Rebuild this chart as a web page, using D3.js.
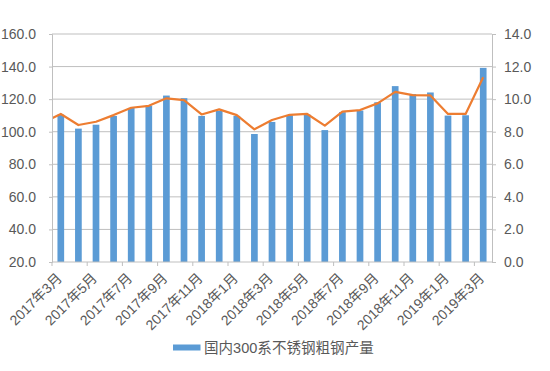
<!DOCTYPE html>
<html>
<head>
<meta charset="utf-8">
<script src="https://cdn.jsdelivr.net/npm/d3@7"></script>
<style>
  body { margin: 0; background: #fff; }
  text { font-family: "Liberation Sans", "Noto Sans CJK SC", sans-serif; fill: #595959; }
</style>
</head>
<body>
<svg id="chart" width="550" height="371"></svg>
<script>
// months on the category axis
const months = [
  "2017年3月","2017年4月","2017年5月","2017年6月","2017年7月","2017年8月","2017年9月",
  "2017年10月","2017年11月","2017年12月","2018年1月","2018年2月","2018年3月","2018年4月",
  "2018年5月","2018年6月","2018年7月","2018年8月","2018年9月","2018年10月","2018年11月",
  "2018年12月","2019年1月","2019年2月","2019年3月"
];
// 国内300系不锈钢粗钢产量 (left axis)
const output = [110.5, 101.9, 104.3, 109.7, 114.6, 115.9, 122.2, 120.6, 109.7, 112.8, 109.7, 98.6,
  106.0, 110.1, 110.5, 101.0, 112.0, 113.0, 118.1, 128.0, 123.1, 124.1, 109.9, 110.1, 139.2];
// orange line (right axis); first value is 2017年2月, just left of the plot
const lineMonths = ["2017年2月"].concat(months);
const lineValues = [8.56, 9.09, 8.41, 8.61, 9.02, 9.47, 9.59, 10.05, 9.94, 9.06, 9.37, 9.02, 8.15,
  8.72, 9.04, 9.09, 8.37, 9.23, 9.33, 9.74, 10.45, 10.25, 10.23, 9.09, 9.09, 11.34];
const leftTicks = [20, 40, 60, 80, 100, 120, 140, 160];
const rightTicks = [0, 2, 4, 6, 8, 10, 12, 14];

const svg = d3.select("#chart");
const mLeft = 52, mRight = 492, mTop = 34, mBottom = 262;

const x = d3.scaleBand().domain(months).range([mLeft, mRight]).paddingInner(0.62).paddingOuter(0.31);
const step = x.step();
const cx = i => mLeft + step * (i + 0.5);
const yL = d3.scaleLinear().domain([20, 160]).range([mBottom, mTop]);
const yR = d3.scaleLinear().domain([0, 14]).range([mBottom, mTop]);

// gridlines
svg.append("g").selectAll("line").data(leftTicks.slice(1)).join("line")
  .attr("x1", mLeft).attr("x2", mRight)
  .attr("y1", d => yL(d)).attr("y2", d => yL(d))
  .attr("stroke", "#bfbfbf").attr("stroke-width", 1);

// bars
svg.append("g").selectAll("rect").data(output).join("rect")
  .attr("x", (d, i) => x(months[i]))
  .attr("width", x.bandwidth())
  .attr("y", d => yL(d))
  .attr("height", d => mBottom - yL(d))
  .attr("fill", "#5b9bd5");

// line
svg.append("clipPath").attr("id", "plot").append("rect")
  .attr("x", mLeft).attr("y", mTop - 5).attr("width", mRight - mLeft).attr("height", mBottom - mTop + 10);
const line = d3.line().x((d, i) => cx(i - 1)).y(d => yR(d));
svg.append("path").datum(lineValues)
  .attr("clip-path", "url(#plot)")
  .attr("d", line)
  .attr("fill", "none").attr("stroke", "#ed7d31").attr("stroke-width", 2.2)
  .attr("stroke-linejoin", "round");

// axes
const gL = svg.append("g").attr("transform", `translate(${mLeft},0)`)
  .call(d3.axisLeft(yL).tickValues(leftTicks).tickFormat(d3.format(".1f")).tickSize(3).tickPadding(13));
const gR = svg.append("g").attr("transform", `translate(${mRight},0)`)
  .call(d3.axisRight(yR).tickValues(rightTicks).tickFormat(d3.format(".1f")).tickSize(4).tickPadding(8));
[gL, gR].forEach(g => {
  g.select(".domain").attr("stroke", "#bfbfbf");
  g.selectAll(".tick line").attr("stroke", "#bfbfbf");
  g.selectAll(".tick text").attr("font-size", 14).style("fill", "#595959");
});

// category axis
svg.append("line").attr("x1", mLeft).attr("x2", mRight).attr("y1", mBottom).attr("y2", mBottom)
  .attr("stroke", "#bfbfbf");
const shown = months.map((m, i) => i).filter(i => i % 2 === 0);
svg.append("g").selectAll("line").data(shown).join("line")
  .attr("x1", i => x(months[i]) - step * 0.31).attr("x2", i => x(months[i]) - step * 0.31)
  .attr("y1", mBottom).attr("y2", mBottom + 4)
  .attr("stroke", "#bfbfbf");
svg.append("g").selectAll("text").data(shown).join("text")
  .attr("transform", i => `translate(${cx(i) + 2},${mBottom + 17}) rotate(-45)`)
  .attr("text-anchor", "end")
  .attr("font-size", 14)
  .text(i => months[i]);

// legend
svg.append("rect").attr("x", 173).attr("y", 344.5).attr("width", 27.5).attr("height", 6).attr("fill", "#5b9bd5");
const legendText = svg.append("text").attr("x", 204).attr("y", 352.5).attr("font-size", 15)
  .text("国内300系不锈钢粗钢产量");
const w = legendText.node().getComputedTextLength();
legendText.attr("font-size", 15 * 170 / w);
</script>
</body>
</html>
